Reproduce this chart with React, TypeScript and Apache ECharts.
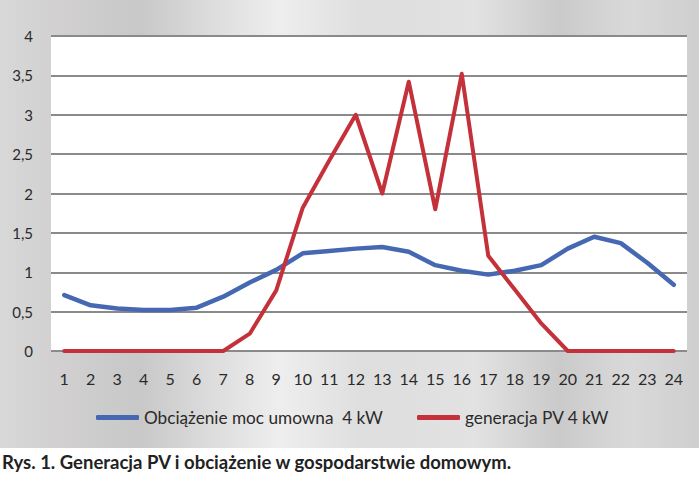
import React, { useEffect, useRef } from "react";
import * as echarts from "echarts";

const hours = ["1","2","3","4","5","6","7","8","9","10","11","12","13","14","15","16","17","18","19","20","21","22","23","24"];
const loadValues = [0.71, 0.58, 0.54, 0.52, 0.52, 0.55, 0.69, 0.87, 1.03, 1.24, 1.27, 1.3, 1.32, 1.26, 1.09, 1.02, 0.97, 1.02, 1.09, 1.3, 1.45, 1.37, 1.12, 0.84];
const pvValues = [0, 0, 0, 0, 0, 0, 0, 0.22, 0.77, 1.82, 2.42, 3.0, 2.0, 3.42, 1.8, 3.52, 1.21, 0.78, 0.35, 0, 0, 0, 0, 0];
const yTicks = { min: 0, max: 4, interval: 0.5 };
const loadName = "Obciążenie moc umowna  4 kW";
const pvName = "generacja PV 4 kW";
const caption = "Rys. 1. Generacja PV i obciążenie w gospodarstwie domowym.";

const FONT = "Lato";

export default function App() {
  const ref = useRef<HTMLDivElement>(null);
  useEffect(() => {
    document.body.style.margin = "0";
    if (!ref.current) return;
    const chart = echarts.init(ref.current, undefined, { renderer: "svg" });
    const gridTop = 36;
    const gridBottom = 480 - 351;
    chart.setOption({
      animation: false,
      backgroundColor: "#ffffff",
      textStyle: { fontFamily: FONT },
      graphic: [
        {
          type: "rect",
          z: -100,
          silent: true,
          shape: { x: 0, y: 0, width: 699, height: 448 },
          style: {
            fill: new echarts.graphic.LinearGradient(0, 0, 1, 0, [
              { offset: 0, color: "#d8d8d8" },
              { offset: 0.08, color: "#d2d0d0" },
              { offset: 0.2, color: "#c8c8c8" },
              { offset: 0.3, color: "#dcdcdc" },
              { offset: 0.4, color: "#eeeeee" },
              { offset: 0.52, color: "#dedede" },
              { offset: 0.68, color: "#e2e2e2" },
              { offset: 0.8, color: "#cacaca" },
              { offset: 0.9, color: "#d9d9d9" },
              { offset: 1, color: "#cfcfcf" },
            ]),
          },
        },
      ],
      title: {
        text: caption,
        left: 2,
        top: 452,
        padding: 0,
        textStyle: { fontFamily: FONT, fontSize: 18.5, fontWeight: "bold", color: "#222222" },
      },
      legend: [
        {
          data: [loadName],
          left: 96,
          top: 409,
          padding: 0,
          icon: "roundRect",
          itemWidth: 43,
          itemHeight: 5,
          textStyle: { fontFamily: FONT, fontSize: 17.2, color: "#2a2a2a" },
        },
        {
          data: [pvName],
          left: 417,
          top: 409,
          padding: 0,
          icon: "roundRect",
          itemWidth: 43,
          itemHeight: 5,
          textStyle: { fontFamily: FONT, fontSize: 17.3, color: "#2a2a2a" },
        },
      ],
      grid: [
        {
          left: 51,
          right: 12,
          top: gridTop,
          bottom: gridBottom,
          show: true,
          backgroundColor: "#ffffff",
          borderWidth: 0,
        },
      ],
      xAxis: [
        {
          type: "category",
          data: hours,
          boundaryGap: true,
          axisLine: { show: false },
          axisTick: { show: false },
          axisLabel: { margin: 19, fontFamily: FONT, fontSize: 16, color: "#2a2a2a", interval: 0 },
        },
      ],
      yAxis: [
        {
          type: "value",
          min: yTicks.min,
          max: yTicks.max,
          interval: yTicks.interval,
          axisLine: { show: false },
          axisTick: { show: false },
          splitLine: { lineStyle: { color: "#8a8a8a", width: 1.8 } },
          axisLabel: {
            margin: 18,
            fontFamily: FONT,
            fontSize: 15,
            color: "#2a2a2a",
            formatter: (v: number) => String(v).replace(".", ","),
          },
        },
      ],
      series: [
        {
          name: loadName,
          type: "line",
          data: loadValues,
          symbol: "none",
          lineStyle: { color: "#4668b2", width: 4.5, join: "round", cap: "round" },
          itemStyle: { color: "#4668b2" },
        },
        {
          name: pvName,
          type: "line",
          data: pvValues,
          symbol: "none",
          lineStyle: { color: "#c4313a", width: 4, join: "round", cap: "round" },
          itemStyle: { color: "#c4313a" },
        },
      ],
    });
    return () => chart.dispose();
  }, []);
  return <div ref={ref} style={{ width: 699, height: 480 }} />;
}
